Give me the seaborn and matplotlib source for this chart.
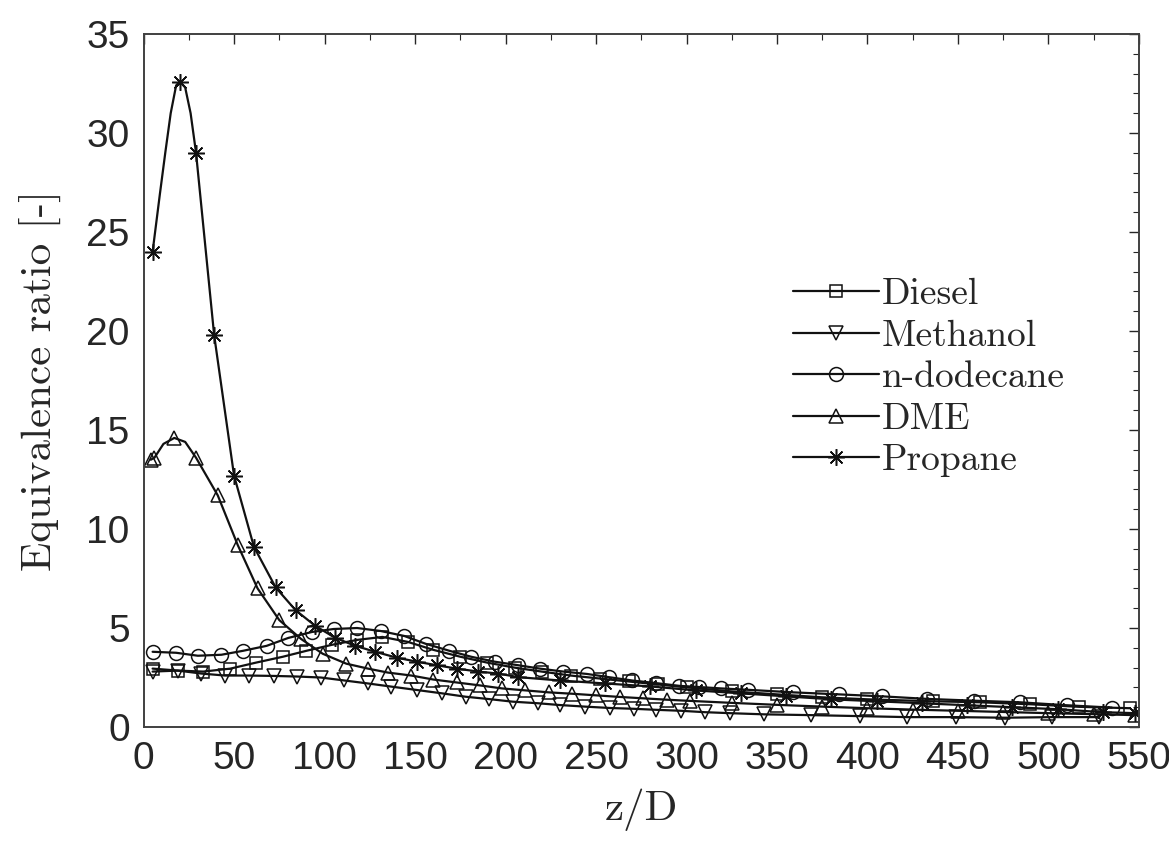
import numpy as np
import matplotlib
matplotlib.use("Agg")
import matplotlib.pyplot as plt
import seaborn as sns
from matplotlib.ticker import MultipleLocator

# ==============================
# DATA
# ==============================

diesel_z = [5, 19, 33, 48, 62, 77, 90, 104, 118, 132, 146, 160, 175, 190, 205, 220, 236, 252,
            268, 284, 300, 325, 350, 375, 400, 436, 462, 490, 517, 545]
diesel_phi = [2.95, 2.85, 2.8, 2.95, 3.25, 3.55, 3.85, 4.15, 4.4, 4.55, 4.3, 3.9, 3.55, 3.25,
              3.0, 2.8, 2.6, 2.45, 2.3, 2.15, 2.0, 1.8, 1.65, 1.5, 1.4, 1.3, 1.25, 1.15, 1.02, 0.95]

methanol_z = [5, 19, 32, 45, 58, 72, 85, 98, 111, 124, 137, 151, 165, 178, 191, 204, 218, 230,
              244, 258, 271, 283, 297, 310, 324, 343, 369, 396, 422, 449, 476, 502, 528]
methanol_phi = [2.8, 2.85, 2.7, 2.6, 2.6, 2.58, 2.55, 2.5, 2.35, 2.2, 2.04, 1.87, 1.7, 1.53,
                1.41, 1.28, 1.2, 1.11, 1.03, 0.96, 0.92, 0.87, 0.82, 0.75, 0.7, 0.64, 0.6,
                0.55, 0.5, 0.5, 0.47, 0.5, 0.5]

dodecane_z = [5, 18, 30, 43, 55, 68, 80, 93, 105, 118, 131, 144, 156, 169, 181, 194, 207, 219,
              232, 245, 257, 270, 283, 296, 307, 319, 334, 359, 384, 408, 433, 459, 484, 510, 535]
dodecane_phi = [3.8, 3.75, 3.6, 3.65, 3.85, 4.1, 4.5, 4.8, 4.95, 5.0, 4.85, 4.6, 4.2, 3.85,
                3.55, 3.3, 3.12, 2.95, 2.8, 2.68, 2.52, 2.35, 2.22, 2.08, 2.02, 1.95, 1.88,
                1.75, 1.65, 1.55, 1.42, 1.33, 1.25, 1.1, 0.98]

dme_z = [4, 6, 11, 17, 23, 29, 41, 52, 63, 75, 87, 99, 112, 124, 135, 148, 160, 173, 186, 198,
         211, 224, 237, 250, 263, 276, 289, 302, 325, 350, 375, 400, 425, 450, 475, 500, 525, 548]
dme_phi = [13.5, 13.6, 14.3, 14.6, 14.4, 13.6, 11.7, 9.2, 7.0, 5.4, 4.45, 3.7, 3.2, 2.95, 2.75,
           2.6, 2.4, 2.25, 2.1, 1.95, 1.85, 1.75, 1.68, 1.6, 1.52, 1.45, 1.38, 1.32, 1.22, 1.12,
           1.03, 0.95, 0.88, 0.82, 0.76, 0.7, 0.65, 0.6]
dme_marked = [0, 1, 3, 5] + list(range(6, len(dme_z)))

propane_z = [5, 9, 12, 15, 18, 20, 23, 26, 29, 39, 50, 61, 73, 84, 95, 106, 117, 128, 140, 151,
             162, 173, 185, 196, 207, 230, 255, 280, 305, 330, 355, 380, 405, 430, 455, 480, 505,
             530, 548]
propane_phi = [24.0, 26.9, 29.0, 31.0, 32.4, 32.6, 32.3, 31.0, 29.0, 19.8, 12.7, 9.1, 7.05, 5.9,
               5.1, 4.5, 4.1, 3.8, 3.5, 3.3, 3.12, 2.95, 2.8, 2.7, 2.52, 2.35, 2.2, 2.05, 1.85,
               1.7, 1.55, 1.4, 1.3, 1.2, 1.1, 1.0, 0.9, 0.75, 0.7]
propane_marked = [0, 5, 8] + list(range(9, len(propane_z)))

# ==============================
# STYLE
# ==============================

sns.set_style("white")
plt.rcParams["font.family"] = ["Liberation Sans", "DejaVu Sans"]

fig = plt.figure(figsize=(11.69, 8.44), dpi=100)
ax = fig.add_axes([0.1228, 0.1386, 0.8515, 0.8211])

series = [
    ("Diesel", diesel_z, diesel_phi, "s", 8, None),
    ("Methanol", methanol_z, methanol_phi, "v", 10, None),
    ("n-dodecane", dodecane_z, dodecane_phi, "o", 10, None),
    ("DME", dme_z, dme_phi, "^", 10, dme_marked),
    ("Propane", propane_z, propane_phi, (8, 2, 0), 12, propane_marked),
]

for name, z, phi, mk, ms, every in series:
    sns.lineplot(x=z, y=phi, ax=ax, color="#111111", linewidth=1.6, label=name,
                 marker=mk, markersize=ms, markerfacecolor="none",
                 markeredgecolor="#111111", markeredgewidth=1.1,
                 markevery=every, estimator=None, sort=False)

# ==============================
# AXES
# ==============================

ax.set_xlim(0, 550)
ax.set_ylim(0, 35)
ax.xaxis.set_major_locator(MultipleLocator(50))
ax.xaxis.set_minor_locator(MultipleLocator(25))
ax.yaxis.set_major_locator(MultipleLocator(5))
ax.yaxis.set_minor_locator(MultipleLocator(1))
ax.tick_params(which="both", direction="in", top=True, right=True,
               colors="#262626", labelcolor="#262626")
ax.tick_params(which="major", length=7, width=1.0, labelsize=28, pad=10)
ax.tick_params(which="minor", length=4, width=0.8)
for sp in ax.spines.values():
    sp.set_color("#404040")
    sp.set_linewidth(1.4)

ax.set_xlabel("z/D", fontfamily="cmr10", fontsize=31, color="#262626", labelpad=8)
ax.set_ylabel("Equivalence ratio [-]", fontfamily="cmr10", fontsize=31,
              color="#262626", labelpad=18)

leg = ax.legend(loc="center left", bbox_to_anchor=(0.652, 0.504), frameon=False,
                handlelength=2.3, handletextpad=0.08, labelspacing=0.22, borderpad=0,
                borderaxespad=0, prop={"family": "cmr10", "size": 27})
for t in leg.get_texts():
    t.set_color("#262626")

fig.savefig("out.png", dpi=100, facecolor="white")
